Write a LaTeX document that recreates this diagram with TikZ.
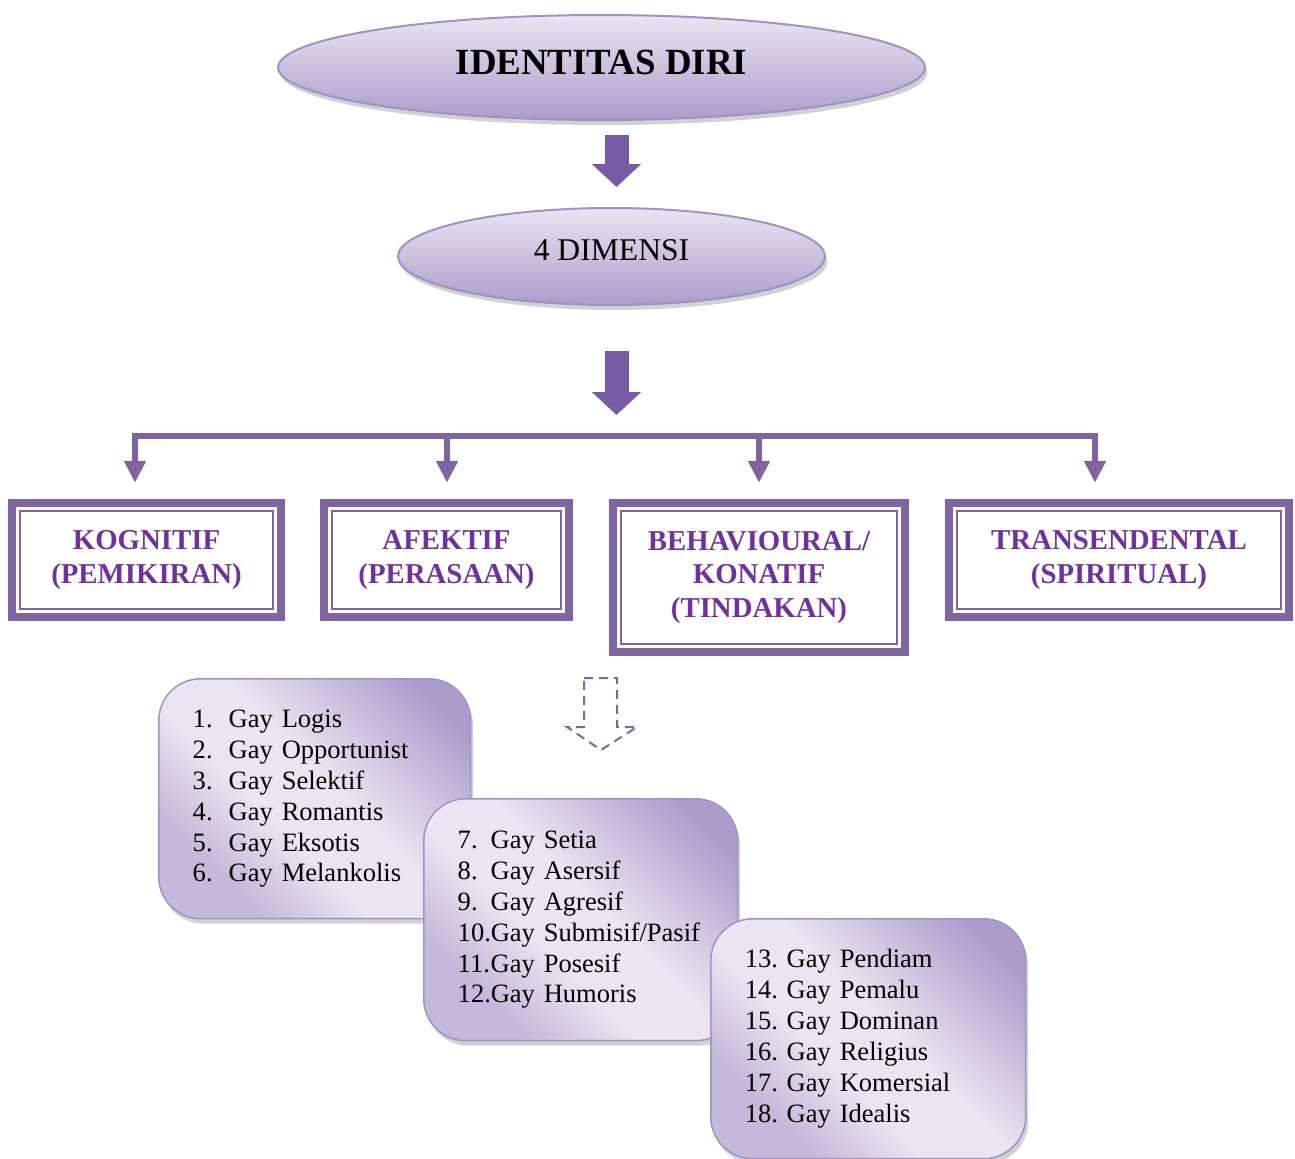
\documentclass[tikz,border=0pt]{standalone}
\usepackage{fontspec}
\setmainfont{Liberation Serif}
\usetikzlibrary{calc,shapes.geometric,shadows,arrows.meta}
\definecolor{frmC}{HTML}{8064A2}
\definecolor{ttlC}{HTML}{7030A0}
\definecolor{arrC}{HTML}{785CA3}
\definecolor{lavL}{HTML}{EAE5F1}
\definecolor{lavM}{HTML}{C5B8DA}
\definecolor{lavD}{HTML}{AD9BCB}
\definecolor{edgC}{HTML}{A391C5}
\pgfdeclarehorizontalshading{lavdiag}{100bp}{color(0bp)=(lavM); color(28bp)=(lavM); color(42bp)=(lavL); color(54bp)=(lavL); color(78bp)=(lavD); color(100bp)=(lavD)}
\newcommand{\nm}[2][0.72cm]{\makebox[#1][l]{#2}}
\frenchspacing

\begin{document}
\begin{tikzpicture}[x=0.02cm, y=-0.02cm,
  oval/.style={ellipse, draw=edgC, line width=0.04cm, top color=lavL, bottom color=lavD,
    inner sep=0pt, drop shadow={shadow xshift=0.05cm, shadow yshift=-0.1cm, opacity=0.3, fill=black!60}},
  blockarr/.style={draw=arrC, line width=0.48cm, -{Triangle[width=0.96cm, length=0.46cm]}},
  pipe/.style={draw=frmC, line width=0.12cm},
  dimbox/.style={rectangle, draw=frmC, line width=0.15cm, outer sep=0pt, fill=white, anchor=north,
    align=center, text=ttlC, font=\fontsize{16.4}{19.3}\selectfont\bfseries},
  inframe/.style={draw=frmC, line width=0.04cm},
  listbox/.style={rectangle, rounded corners=0.84cm, draw=edgC, line width=0.03cm, shade, shading=lavdiag,
    shading angle=45, anchor=north west, align=left, inner xsep=0.68cm, inner ysep=0pt,
    font=\fontsize{15.1}{17.6}\selectfont,
    drop shadow={shadow xshift=0.05cm, shadow yshift=-0.1cm, opacity=0.3, fill=black!60}}
]
  \useasboundingbox (0,0) rectangle (1295,1159);

  % ---- top: ovals ----
  \node[oval, minimum width=12.94cm, minimum height=2.1cm, text depth=0.2cm,
    font=\fontsize{21}{25}\selectfont\bfseries] (ident) at (601.5,67.5) {IDENTITAS DIRI};
  \node[oval, minimum width=8.54cm, minimum height=1.94cm, text depth=0.24cm,
    font=\fontsize{18}{22}\selectfont] (dim) at (611.5,256.5) {4 DIMENSI};

  \coordinate (hub) at (616.5,436);
  \draw[blockarr, shorten <=0.28cm, shorten >=0.4cm] ($(ident.south)+(15,0)$) -- ($(dim.north)+(5,0)$);
  \draw[blockarr, shorten <=0.9cm, shorten >=0.42cm] ($(dim.south)+(5,0)$) -- (hub);

  % ---- the four dimensions ----
  \node[dimbox, minimum width=5.39cm, minimum height=2.29cm] (kog) at (146.5,502.75) {KOGNITIF\\(PEMIKIRAN)};
  \node[dimbox, minimum width=4.91cm, minimum height=2.29cm] (afe) at (446.5,502.75) {AFEKTIF\\(PERASAAN)};
  \node[dimbox, minimum width=5.85cm, minimum height=2.99cm] (beh) at (759,502.75) {BEHAVIOURAL/\\KONATIF\\(TINDAKAN)};
  \node[dimbox, minimum width=6.81cm, minimum height=2.29cm] (tra) at (1119,502.75) {TRANSENDENTAL\\(SPIRITUAL)};
  \foreach \n in {kog,afe,beh,tra}
    \draw[inframe] ($(\n.north west)+(8.5,8.5)$) rectangle ($(\n.south east)+(-8.5,-8.5)$);

  \coordinate (barL) at (135,436);
  \coordinate (barB) at (447,436);
  \coordinate (barC) at (759,436);
  \coordinate (barR) at (1095,436);
  \draw[pipe, {Triangle[width=0.42cm, length=0.44cm]}-{Triangle[width=0.42cm, length=0.44cm]},
    shorten <=0.4cm, shorten >=0.4cm] (barL |- kog.north) -- (barL) -- (barR) -- (barR |- tra.north);
  \draw[pipe, -{Triangle[width=0.42cm, length=0.44cm]}, shorten >=0.4cm] (barB) -- (barB |- afe.north);
  \draw[pipe, -{Triangle[width=0.42cm, length=0.44cm]}, shorten >=0.4cm] (barC) -- (barC |- beh.north);

  % ---- dashed hollow arrow ----
  \draw[frmC, line width=0.04cm, dash pattern=on 0.18cm off 0.12cm]
    (584,678) -- (617,678) -- (617,727) -- (637,727) -- (601,750) -- (567,727) -- (584,727) -- cycle;

  % ---- gay types ----
  \node[listbox, minimum width=6.24cm, minimum height=4.8cm, text width=4.88cm] (typA) at (158,678)
    {\nm{1.}Gay Logis\\ \nm{2.}Gay Opportunist\\ \nm{3.}Gay Selektif\\
     \nm{4.}Gay Romantis\\ \nm{5.}Gay Eksotis\\ \nm{6.}Gay Melankolis};
  \node[listbox, minimum width=6.28cm, minimum height=4.84cm, text width=4.92cm] (typB) at (423,798)
    {\nm[0.66cm]{7.}Gay Setia\\ \nm[0.66cm]{8.}Gay Asersif\\ \nm[0.66cm]{9.}Gay Agresif\\
     \nm[0.66cm]{10.}Gay Submisif/Pasif\\ \nm[0.66cm]{11.}Gay Posesif\\ \nm[0.66cm]{12.}Gay Humoris};
  \node[listbox, minimum width=6.3cm, minimum height=4.8cm, text width=4.94cm] (typC) at (710,918)
    {13. Gay Pendiam\\ 14. Gay Pemalu\\ 15. Gay Dominan\\
     16. Gay Religius\\ 17. Gay Komersial\\ 18. Gay Idealis};
\end{tikzpicture}
\end{document}
